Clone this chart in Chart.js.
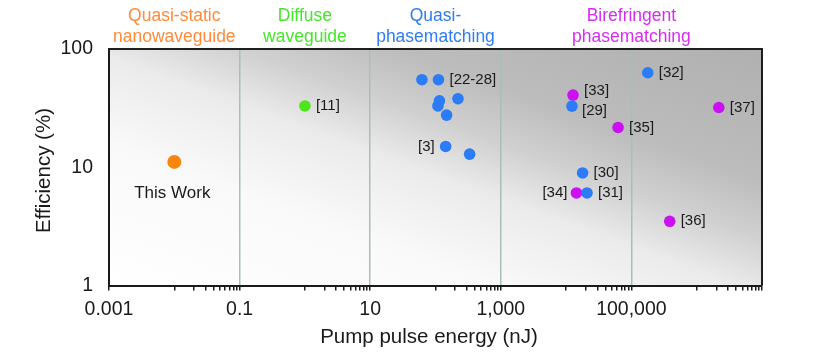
<!DOCTYPE html>
<html>
<head>
<meta charset="utf-8">
<script src="https://cdn.jsdelivr.net/npm/chart.js@4.4.1/dist/chart.umd.min.js"></script>
<style>
  html, body { margin: 0; padding: 0; background: #ffffff; }
  #wrap { width: 830px; height: 356px; }
</style>
</head>
<body>
<div id="wrap"><canvas id="effChart" width="830" height="356"></canvas></div>
<script>
// Data
const thisWorkX = [0.01];
const thisWorkY = [11.1];
const thisWorkRefs = ['This Work'];

const diffuseX = [1.0];
const diffuseY = [33];
const diffuseRefs = ['[11]'];

const qpmX = [62, 111, 115, 109, 221, 148, 143, 333, 178000, 12300, 17900, 20900];
const qpmY = [55, 55, 36.5, 33, 38, 27.6, 15, 12.9, 63, 32.9, 8.95, 6.06];
const qpmRefs = ['', '[22-28]', '', '', '', '', '[3]', '', '[32]', '[29]', '[30]', '[31]'];

const bpmX = [12770, 62500, 14400, 386000, 2180000];
const bpmY = [40.8, 21.7, 6.06, 3.49, 32];
const bpmRefs = ['[33]', '[35]', '[34]', '[36]', '[37]'];

// Axis ticks
const xMajorValues = [0.001, 0.1, 10, 1000, 100000, 10000000];
const xTickLabels = ['0.001', '0.1', '10', '1,000', '100,000', ''];
const yTickValues = [1, 10, 100];
const yTickLabels = ['1', '10', '100'];

// Category headers over the plot
const categoryNames = [
    ['Quasi-static', 'nanowaveguide'],
    ['Diffuse', 'waveguide'],
    ['Quasi-', 'phasematching'],
    ['Birefringent', 'phasematching']
];
const categoryCenters = [0.01, 1, 100, 100000];
const categoryColors = ['#ff8a3a', '#46e62a', '#2f7cf4', '#d62cf2'];

const FONT = '"Liberation Sans", Arial, sans-serif';

function toPoints(xs, ys) {
    return xs.map((x, i) => ({ x: x, y: ys[i] }));
}

function sameValue(a, b) {
    return Math.abs(Math.log10(a) - Math.log10(b)) < 1e-6;
}

// where each reference label sits relative to its point
const labelPlacement = {
    'This Work': { dx: -2, dy: 31, align: 'center' },
    '[3]': { dx: -11, dy: 0, align: 'right' },
    '[34]': { dx: -9, dy: 0, align: 'right' },
    '[33]': { dx: 11, dy: -4.5, align: 'left' },
    '[29]': { dx: 10, dy: 4.5, align: 'left' }
};

const plotDecor = {
    id: 'plotDecor',
    beforeDraw(chart) {
        const { ctx, chartArea: a } = chart;
        const w = a.right - a.left;
        const h = a.bottom - a.top;
        ctx.save();
        ctx.translate(a.left, a.top);
        ctx.scale(w, h);
        const g = ctx.createLinearGradient(0, 1, 1, 0);
        g.addColorStop(0, '#ffffff');
        g.addColorStop(0.3, '#f9f9f9');
        g.addColorStop(0.48, '#ebebeb');
        g.addColorStop(0.6, '#d0d0d0');
        g.addColorStop(0.72, '#bcbcbc');
        g.addColorStop(1, '#b0b0b0');
        ctx.fillStyle = g;
        ctx.fillRect(0, 0, 1, 1);
        ctx.restore();
    },
    afterDatasetsDraw(chart) {
        const { ctx } = chart;
        ctx.save();
        ctx.fillStyle = '#1a1a1a';
        ctx.textBaseline = 'middle';
        chart.data.datasets.forEach((ds, di) => {
            const meta = chart.getDatasetMeta(di);
            ds.refs.forEach((ref, i) => {
                if (!ref) return;
                const el = meta.data[i];
                const p = labelPlacement[ref] || { dx: 11, dy: 0, align: 'left' };
                ctx.font = (ref === 'This Work' ? '17px ' : '15px ') + FONT;
                ctx.textAlign = p.align;
                ctx.fillText(ref, el.x + p.dx, el.y + p.dy);
            });
        });
        ctx.restore();
    },
    afterDraw(chart) {
        const { ctx, chartArea: a } = chart;
        const xs = chart.scales.x;
        ctx.save();
        // top and right frame
        ctx.strokeStyle = '#1e1e1e';
        ctx.lineWidth = 2;
        ctx.beginPath();
        ctx.moveTo(a.left, a.top);
        ctx.lineTo(a.right, a.top);
        ctx.lineTo(a.right, a.bottom);
        ctx.stroke();

        // category headers
        ctx.font = '17.5px ' + FONT;
        ctx.textAlign = 'center';
        ctx.textBaseline = 'alphabetic';
        categoryNames.forEach((lines, i) => {
            const cx = xs.getPixelForValue(categoryCenters[i]);
            ctx.fillStyle = categoryColors[i];
            ctx.fillText(lines[0], cx, 20.7);
            ctx.fillText(lines[1], cx, 42.3);
        });

        // axis titles
        ctx.fillStyle = '#1a1a1a';
        ctx.font = '20.5px ' + FONT;
        ctx.fillText('Pump pulse energy (nJ)', 429, 343.3);
        ctx.translate(49.5, 170.5);
        ctx.rotate(-Math.PI / 2);
        ctx.fillText('Efficiency (%)', 0, 0);
        ctx.restore();
    }
};

const ctx = document.getElementById('effChart').getContext('2d');

new Chart(ctx, {
    type: 'scatter',
    data: {
        datasets: [
            {
                label: 'This work',
                data: toPoints(thisWorkX, thisWorkY),
                refs: thisWorkRefs,
                backgroundColor: '#f7860e',
                pointRadius: 7,
                borderWidth: 0
            },
            {
                label: 'Diffuse waveguide',
                data: toPoints(diffuseX, diffuseY),
                refs: diffuseRefs,
                backgroundColor: '#4ce61a',
                pointRadius: 5.8,
                borderWidth: 0
            },
            {
                label: 'Quasi-phasematching',
                data: toPoints(qpmX, qpmY),
                refs: qpmRefs,
                backgroundColor: '#2b7cf6',
                pointRadius: 5.8,
                borderWidth: 0
            },
            {
                label: 'Birefringent phasematching',
                data: toPoints(bpmX, bpmY),
                refs: bpmRefs,
                backgroundColor: '#cc10f4',
                pointRadius: 5.8,
                borderWidth: 0
            }
        ]
    },
    options: {
        responsive: false,
        animation: false,
        events: [],
        layout: {
            padding: { top: 49, right: 68, bottom: 0, left: 0 }
        },
        plugins: {
            legend: { display: false },
            tooltip: { enabled: false }
        },
        scales: {
            x: {
                type: 'logarithmic',
                min: 0.001,
                max: 10000000,
                afterFit: s => { s.height = 70.5; },
                afterBuildTicks: s => {
                    const ticks = [];
                    xMajorValues.forEach(m => {
                        ticks.push({ value: m });
                        if (m >= 10000000) return;
                        for (let k = 1; k <= 9; k++) {
                            ticks.push({ value: m * 10 * k });
                        }
                    });
                    s.ticks = ticks;
                },
                border: { display: true, color: '#1a1a1a', width: 2 },
                grid: {
                    drawOnChartArea: true,
                    drawTicks: true,
                    tickLength: 5,
                    tickWidth: 1.5,
                    tickColor: '#1a1a1a',
                    lineWidth: 1.5,
                    color: c => {
                        const v = c.tick ? c.tick.value : 0;
                        return xMajorValues.some(m => sameValue(m, v)) ? '#aabdbd' : 'rgba(0,0,0,0)';
                    }
                },
                ticks: {
                    autoSkip: false,
                    maxRotation: 0,
                    padding: 7,
                    color: '#1a1a1a',
                    font: { family: FONT, size: 19.5 },
                    callback: v => {
                        const i = xMajorValues.findIndex(m => sameValue(m, v));
                        return i >= 0 ? xTickLabels[i] : '';
                    }
                }
            },
            y: {
                type: 'logarithmic',
                min: 1,
                max: 100,
                afterFit: s => { s.width = 109; },
                afterBuildTicks: s => {
                    s.ticks = yTickValues.map(v => ({ value: v }));
                },
                border: { display: true, color: '#1a1a1a', width: 2 },
                grid: { display: false, drawTicks: false },
                ticks: {
                    padding: 16,
                    color: '#1a1a1a',
                    font: { family: FONT, size: 19.5 },
                    callback: v => {
                        const i = yTickValues.findIndex(m => sameValue(m, v));
                        return i >= 0 ? yTickLabels[i] : '';
                    }
                }
            }
        }
    },
    plugins: [plotDecor]
});
</script>
</body>
</html>
